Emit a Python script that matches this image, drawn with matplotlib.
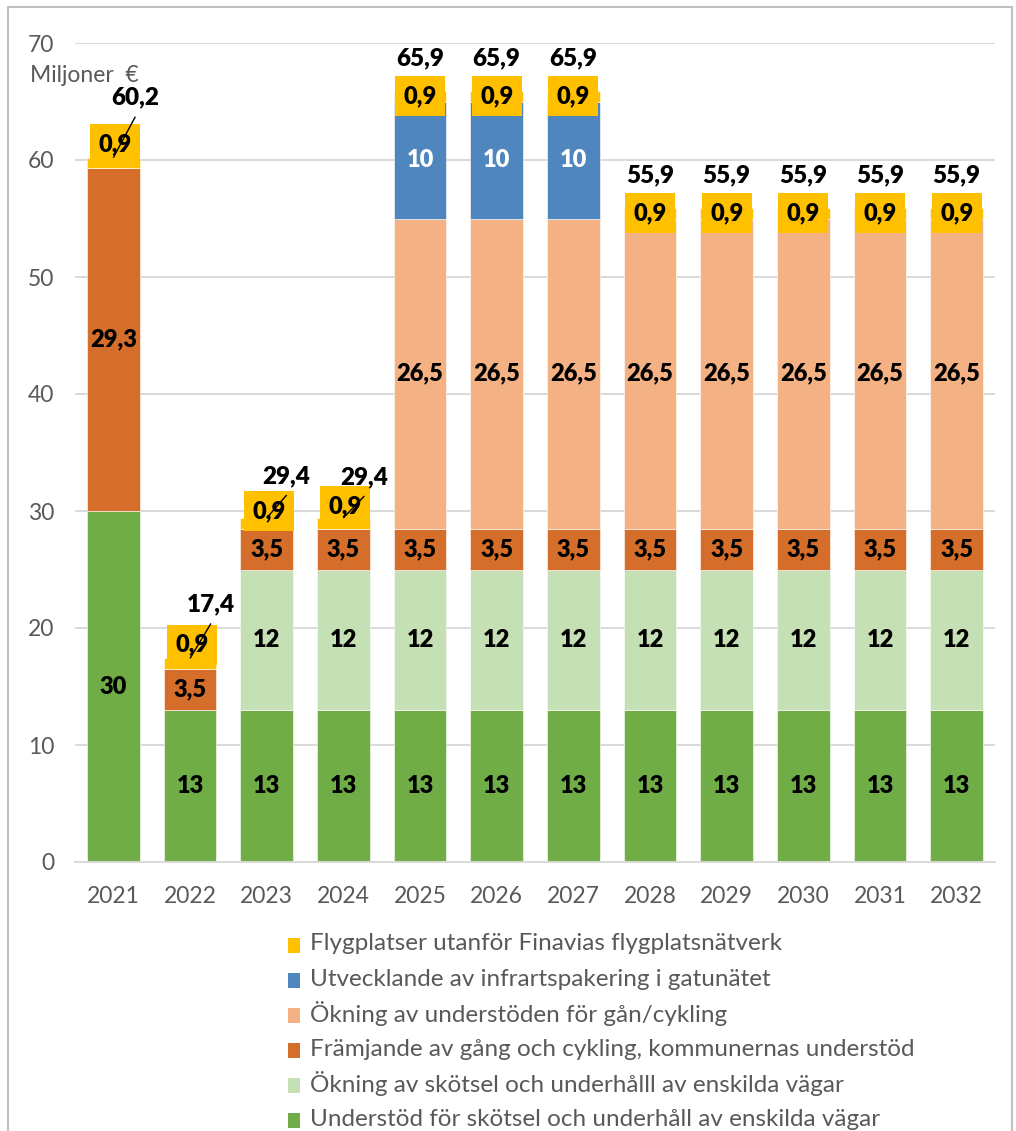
import matplotlib
matplotlib.use("Agg")
import matplotlib.pyplot as plt
from matplotlib.patches import Rectangle

plt.rcParams['font.family'] = ['Lato', 'DejaVu Sans']

years = ['2021', '2022', '2023', '2024', '2025', '2026', '2027',
         '2028', '2029', '2030', '2031', '2032']

# Stacked series, bottom to top
skotsel = [30, 13, 13, 13, 13, 13, 13, 13, 13, 13, 13, 13]
skotsel_okning = [0, 0, 12, 12, 12, 12, 12, 12, 12, 12, 12, 12]
gang_cykling = [29.3, 3.5, 3.5, 3.5, 3.5, 3.5, 3.5, 3.5, 3.5, 3.5, 3.5, 3.5]
gang_okning = [0, 0, 0, 0, 26.5, 26.5, 26.5, 26.5, 26.5, 26.5, 26.5, 26.5]
infart = [0, 0, 0, 0, 10, 10, 10, 0, 0, 0, 0, 0]
flygplatser = [0.9] * 12

series_names = [
    'Understöd för skötsel och underhåll av enskilda vägar',
    'Ökning av skötsel och underhålll av enskilda vägar',
    'Främjande av gång och cykling, kommunernas understöd',
    'Ökning av understöden för gån/cykling',
    'Utvecklande av infrartspakering i gatunätet',
    'Flygplatser utanför Finavias flygplatsnätverk',
]
series = [skotsel, skotsel_okning, gang_cykling, gang_okning, infart, flygplatser]
colors = ['#70AD47', '#C5E0B4', '#D46E2A', '#F4B183', '#4F86BD', '#FFC000']
label_colors = ['black', 'black', 'black', 'black', 'white', 'black']

LABEL_WEIGHT = 'heavy'
LABEL_SIZE = 17

W, H = 1016, 1131
fig = plt.figure(figsize=(W / 100, H / 100), dpi=100)
ax_left, ax_right, ax_bottom_px, ax_top_px = 75, 995, 862, 43
ax = fig.add_axes([ax_left / W, 1 - ax_bottom_px / H,
                   (ax_right - ax_left) / W, (ax_bottom_px - ax_top_px) / H])

x = list(range(len(years)))
ax.set_xlim(-0.5, len(years) - 0.5)
ax.set_ylim(0, 70)

px_x = (len(years)) / (ax_right - ax_left)      # data units per pixel (x)
px_y = 70 / (ax_bottom_px - ax_top_px)           # data units per pixel (y)

bar_w = 0.69
bottoms = [0.0] * len(years)
seg_info = []
for vals, col in zip(series, colors):
    ax.bar(x, vals, bar_w, bottom=bottoms, color=col, edgecolor='white',
           linewidth=0.4, zorder=2)
    seg_info.append([(b, v) for b, v in zip(bottoms, vals)])
    bottoms = [b + v for b, v in zip(bottoms, vals)]
totals = bottoms


def fmt(v):
    return f"{round(v, 1):g}".replace('.', ',')


# Segment labels for the lower series
for si in range(len(series) - 1):
    for i, (b, v) in enumerate(seg_info[si]):
        if v > 0:
            ax.text(i, b + v / 2, fmt(v), ha='center', va='center',
                    fontsize=LABEL_SIZE, fontweight=LABEL_WEIGHT,
                    color=label_colors[si], zorder=5)

# Labels of the top series sit in filled boxes; a few are lifted
box_lift_px = {0: 19, 1: 19, 2: 12, 3: 17}
box_w_px, box_h_px = 50, 40
for i, (b, v) in enumerate(seg_info[-1]):
    cy = b + v / 2 + box_lift_px.get(i, 0) * px_y
    cx = i + 2 * px_x * (1 if i in box_lift_px else 0)
    ax.add_patch(Rectangle((cx - box_w_px * px_x / 2, cy - box_h_px * px_y / 2),
                           box_w_px * px_x, box_h_px * px_y,
                           facecolor=colors[-1], edgecolor='none', zorder=4))
    ax.text(cx, cy, fmt(v), ha='center', va='center', fontsize=LABEL_SIZE,
            fontweight=LABEL_WEIGHT, color='black', zorder=5)

# Totals above each bar, some moved aside with a leader line
total_shift_px = {0: (22, 60), 1: (21, 54), 2: (20, 42), 3: (21, 41)}
for i, t in enumerate(totals):
    dx, dy = total_shift_px.get(i, (0, 33))
    tx, ty = i + dx * px_x, t + dy * px_y
    ax.text(tx, ty, fmt(t), ha='center', va='center', fontsize=LABEL_SIZE + 0.5,
            fontweight=LABEL_WEIGHT, color='black', zorder=6)
    if i in total_shift_px:
        ax.plot([tx, i], [ty - 19 * px_y, t], color='black', lw=1.0,
                zorder=7, solid_capstyle='butt')

# Axes styling
ax.set_yticks(range(0, 71, 10))
ax.set_xticks(x)
ax.set_xticklabels(years)
ax.grid(axis='y', color='#D9D9D9', linewidth=1.4, zorder=0)
ax.set_axisbelow(True)
for s in ['left', 'right', 'top']:
    ax.spines[s].set_visible(False)
ax.spines['bottom'].set_color('#D9D9D9')
ax.spines['bottom'].set_linewidth(1.4)
ax.tick_params(axis='both', length=0, labelsize=16.5, colors='#595959')
ax.tick_params(axis='y', pad=15)
ax.tick_params(axis='x', pad=17)

fig.text(30 / W, 1 - 75 / H, 'Miljoner  €', fontsize=16.5, color='#595959',
         ha='left', va='center')

# Legend, drawn top to bottom in reverse stacking order
row_y = [945, 980, 1015, 1050, 1085, 1120]
for k, si in enumerate(reversed(range(len(series)))):
    yc = row_y[k]
    fig.patches.append(Rectangle((288 / W, 1 - (yc + 7.5) / H), 12 / W, 15 / H,
                                 transform=fig.transFigure,
                                 facecolor=colors[si], edgecolor='none'))
    fig.text(310 / W, 1 - (yc - 3) / H, series_names[si], fontsize=17.5,
             color='#595959', ha='left', va='center_baseline')

# Outer frame
fig.patches.append(Rectangle((7.5 / W, -0.01), (1012 - 7.5) / W, 1.01 - 7.5 / H,
                             transform=fig.transFigure, facecolor='none',
                             edgecolor='#C0C0C0', linewidth=1.5))

fig.savefig('out.png', dpi=100)
